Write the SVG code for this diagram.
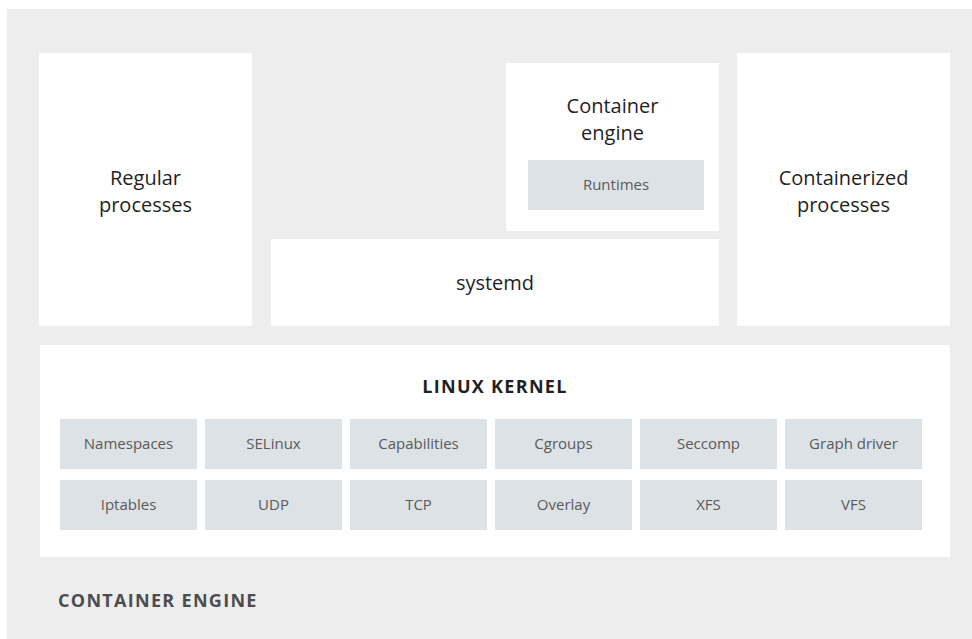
<svg xmlns="http://www.w3.org/2000/svg" width="972" height="639" viewBox="0 0 972 639">
<style>
.box{fill:#ffffff}
.cell{fill:#dce2e5}
.lbl{font-family:"Open Sans","Liberation Sans",sans-serif;font-size:20px;fill:#1f1f1f;text-anchor:middle}
.cl{font-family:"Open Sans","Liberation Sans",sans-serif;font-size:15px;fill:#5a5a5a;text-anchor:middle}
.hd{font-family:"Open Sans","Liberation Sans",sans-serif;font-size:18px;font-weight:bold;fill:#1f1f1f;text-anchor:middle;letter-spacing:1.3px}
.ft{font-family:"Open Sans","Liberation Sans",sans-serif;font-size:18px;font-weight:bold;fill:#4d4d4d;letter-spacing:1.3px}
</style>
<rect x="7" y="9" width="965" height="630" fill="#ededed"/>
<g id="regular-processes">
<rect class="box" x="39" y="53" width="213" height="273"/>
<text class="lbl" x="145.5" y="185">Regular</text>
<text class="lbl" x="145.5" y="212">processes</text>
</g>
<g id="container-engine">
<rect class="box" x="506" y="63" width="213" height="168"/>
<text class="lbl" x="612.5" y="113">Container</text>
<text class="lbl" x="612.5" y="140">engine</text>
<g id="runtimes">
<rect class="cell" x="528" y="160" width="176" height="50"/>
<text class="cl" x="616" y="190">Runtimes</text>
</g>
</g>
<g id="systemd">
<rect class="box" x="271" y="239" width="448" height="87"/>
<text class="lbl" x="495" y="290">systemd</text>
</g>
<g id="containerized-processes">
<rect class="box" x="737" y="53" width="213" height="273"/>
<text class="lbl" x="843.5" y="185">Containerized</text>
<text class="lbl" x="843.5" y="212">processes</text>
</g>
<g id="linux-kernel">
<rect class="box" x="40" y="345" width="910" height="212"/>
<text class="hd" x="495" y="393">LINUX KERNEL</text>
<g id="namespaces"><rect class="cell" x="60" y="419" width="137" height="50"/><text class="cl" x="128.5" y="449">Namespaces</text></g>
<g id="selinux"><rect class="cell" x="205" y="419" width="137" height="50"/><text class="cl" x="273.5" y="449">SELinux</text></g>
<g id="capabilities"><rect class="cell" x="350" y="419" width="137" height="50"/><text class="cl" x="418.5" y="449">Capabilities</text></g>
<g id="cgroups"><rect class="cell" x="495" y="419" width="137" height="50"/><text class="cl" x="563.5" y="449">Cgroups</text></g>
<g id="seccomp"><rect class="cell" x="640" y="419" width="137" height="50"/><text class="cl" x="708.5" y="449">Seccomp</text></g>
<g id="graph-driver"><rect class="cell" x="785" y="419" width="137" height="50"/><text class="cl" x="853.5" y="449">Graph driver</text></g>
<g id="iptables"><rect class="cell" x="60" y="480" width="137" height="50"/><text class="cl" x="128.5" y="510">Iptables</text></g>
<g id="udp"><rect class="cell" x="205" y="480" width="137" height="50"/><text class="cl" x="273.5" y="510">UDP</text></g>
<g id="tcp"><rect class="cell" x="350" y="480" width="137" height="50"/><text class="cl" x="418.5" y="510">TCP</text></g>
<g id="overlay"><rect class="cell" x="495" y="480" width="137" height="50"/><text class="cl" x="563.5" y="510">Overlay</text></g>
<g id="xfs"><rect class="cell" x="640" y="480" width="137" height="50"/><text class="cl" x="708.5" y="510">XFS</text></g>
<g id="vfs"><rect class="cell" x="785" y="480" width="137" height="50"/><text class="cl" x="853.5" y="510">VFS</text></g>
</g>
<g id="connectors"></g>
<text class="ft" x="58" y="607">CONTAINER ENGINE</text>
</svg>
